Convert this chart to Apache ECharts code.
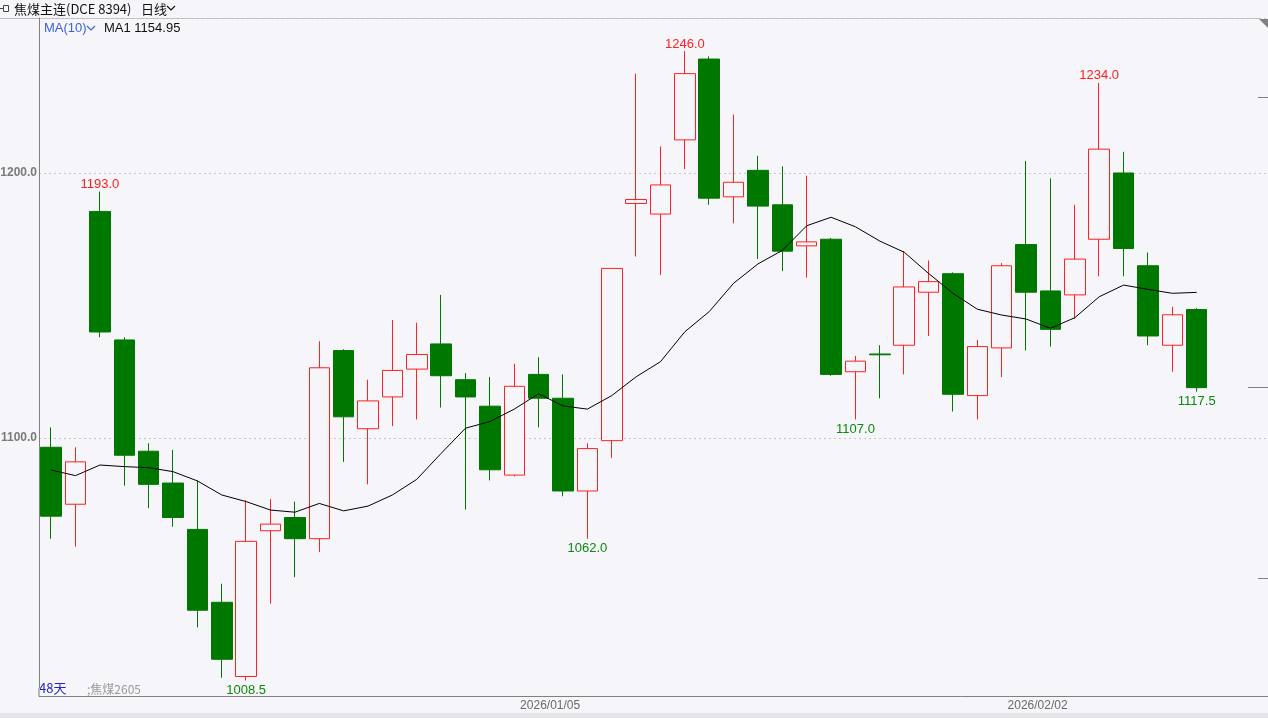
<!DOCTYPE html>
<html><head><meta charset="utf-8">
<script src="https://cdn.jsdelivr.net/npm/echarts@6/dist/echarts.min.js"></script>
<style>html,body{margin:0;padding:0;background:#f5f5fa;}#c{width:1268px;height:718px;}</style>
</head><body><div id="c"></div>
<script>
const dates = ['2025/12/04','2025/12/05','2025/12/08','2025/12/09','2025/12/10','2025/12/11','2025/12/12','2025/12/15','2025/12/16','2025/12/17',
'2025/12/18','2025/12/19','2025/12/22','2025/12/23','2025/12/24','2025/12/25','2025/12/26','2025/12/29','2025/12/30','2025/12/31',
'2026/01/05','2026/01/06','2026/01/07','2026/01/08','2026/01/09','2026/01/12','2026/01/13','2026/01/14','2026/01/15','2026/01/16',
'2026/01/19','2026/01/20','2026/01/21','2026/01/22','2026/01/23','2026/01/26','2026/01/27','2026/01/28','2026/01/29','2026/01/30',
'2026/02/02','2026/02/03','2026/02/04','2026/02/05','2026/02/06','2026/02/09','2026/02/10','2026/02/11'];
const emptySlots = ['', '', ''];
const opens = [1096.5,1075,1185.5,1137,1095,1083,1065.5,1038,1010,1065,
1070,1062,1133,1103.5,1115.5,1126,1135.5,1122,1112,1086,
1124,1115,1080,1099,1188.5,1184.5,1212.5,1243,1191,1201,
1188,1172.5,1175,1125,1131.7,1135,1155,1162,1116,1134,
1173,1155.5,1154,1175,1200,1165,1135,1148.5];
const closes = [1070.5,1091,1140,1093.5,1082.5,1070,1035,1016.5,1061,1067.5,
1062,1126.5,1108,1114,1125.5,1131.5,1123.5,1115.5,1088,1119.5,
1115,1080,1096,1164,1190,1195.5,1237.5,1190.5,1196.5,1187.5,
1170.5,1174,1124,1129,1131.4,1157,1159,1116.5,1134.5,1165,
1155,1141,1167.5,1209,1171.5,1138.5,1146.5,1119];
const lows = [1062,1059,1138,1082,1073.5,1066.5,1028.5,1009.5,1008.5,1037.5,
1047.5,1057,1091,1082.5,1104.5,1107,1111.5,1073,1084,1085.5,
1104,1078,1062,1092.5,1168.5,1161.5,1201.5,1188,1181,1167.5,
1163,1160.5,1123.5,1107,1115,1124,1138.5,1110,1107,1123,
1133,1134.5,1145,1161,1161,1135,1125,1117.5];
const highs = [1104,1096.5,1193,1138,1098,1095.5,1084,1045,1076.5,1077,
1076,1136.5,1133.5,1122,1144.5,1143.5,1154,1124.5,1123,1128,
1130.5,1124,1098,1164,1237.5,1210,1246,1244,1222,1206.5,
1202.5,1199,1175.5,1131,1135,1170.5,1167,1162.5,1137,1166,
1204.5,1198,1188,1234,1208,1170,1149.5,1149];
const ma10 = [1087.9,1085.8,1089.8,1089.2,1088.8,1087.3,1083.8,1078.5,1076,1072.8,
1072,1075.3,1072.5,1074.3,1078.5,1084.4,1094.2,1103.7,1106.2,1110.9,
1116.7,1112.1,1110.9,1116,1123.1,1128.8,1140.1,1147.7,1158.4,1165.7,
1170.8,1180.1,1183.3,1179.7,1174.3,1170.1,1162.1,1154.6,1148.6,1146.4,
1144.9,1141.4,1145.4,1153.3,1157.7,1156.1,1154.6,1154.95];
const highMarks = [2, 26, 43];
const lowMarks = [8, 22, 33, 47];
const dateLabelIdx = [20, 40];
const tickIdx = [47];

const cats = dates.concat(emptySlots);
const kData = opens.map((o, i) => [o, closes[i], lows[i], highs[i]]);
const BG = '#f5f5fa';
const RED = '#ff2020';
const GREEN = '#007800';

const markData = highMarks.map(i => ({
  coord: [i, highs[i]], value: highs[i],
  label: {position: 'top', distance: 0, color: '#ff2020'}
})).concat(lowMarks.map(i => ({
  coord: [i, lows[i]], value: lows[i],
  label: {position: 'bottom', distance: 3, color: '#0a8a0a'}
})));

const chart = echarts.init(document.getElementById('c'), null, {renderer: 'canvas'});
chart.setOption({
  animation: false,
  backgroundColor: BG,
  grid: {left: 39, top: 18, width: 1243, height: 678, containLabel: false, outerBoundsMode: 'none'},
  xAxis: {
    type: 'category', data: cats, boundaryGap: true,
    axisLine: {show: true, lineStyle: {color: '#808080', width: 1}},
    axisTick: {show: true, inside: true, length: 8, interval: (i) => tickIdx.includes(i),
      lineStyle: {color: '#b8b8b8', width: 2}},
    axisLabel: {
      interval: (i) => dateLabelIdx.includes(i), margin: 4,
      formatter: (v) => '{a|' + v + '}',
      rich: {a: {padding: [0, 0, 0, 23], fontSize: 12, fontFamily: 'Liberation Sans', color: '#6a6a6a'}}
    },
    splitLine: {show: false}
  },
  yAxis: {
    type: 'value', min: 1002.64, max: 1258.49, splitNumber: 3, scale: true,
    axisLine: {show: true, lineStyle: {color: '#808080', width: 1}},
    axisTick: {show: false},
    axisLabel: {showMinLabel: false, showMaxLabel: false, margin: 2,
      formatter: (v) => v.toFixed(1), color: '#7a7a7a', fontWeight: 'bold', fontSize: 12,
      fontFamily: 'Liberation Sans'},
    splitLine: {show: true, lineStyle: {color: '#c8c8c8', type: [2, 3], width: 1}}
  },
  series: [{
    type: 'candlestick', data: kData, barWidth: 21,
    itemStyle: {color: BG, color0: GREEN, borderColor: RED, borderColor0: GREEN, borderWidth: 1},
    markPoint: {
      symbol: 'circle', symbolSize: 1, itemStyle: {color: 'rgba(0,0,0,0)'},
      label: {show: true, fontSize: 13, fontFamily: 'Liberation Sans', formatter: (p) => Number(p.value).toFixed(1)},
      data: markData
    }
  }, {
    type: 'line', data: ma10, showSymbol: false, symbol: 'none', smooth: false,
    lineStyle: {color: '#000000', width: 1}, z: 3
  }],
  graphic: [
    {type: 'rect', shape: {x: 0, y: 713, width: 1268, height: 5}, style: {fill: '#e6e6ea'}},
    {type: 'line', shape: {x1: 0, y1: 18.5, x2: 1259, y2: 18.5}, style: {stroke: '#bdbdbd', lineWidth: 1}},
    {type: 'polygon', shape: {points: [[1259, 19], [1268, 19], [1268, 28]]}, style: {fill: '#808080'}},
    {type: 'line', shape: {x1: 1258, y1: 97.5, x2: 1268, y2: 97.5}, style: {stroke: '#808080', lineWidth: 1}},
    {type: 'line', shape: {x1: 1248, y1: 387.5, x2: 1268, y2: 387.5}, style: {stroke: '#808080', lineWidth: 1}},
    {type: 'line', shape: {x1: 1258, y1: 578.5, x2: 1268, y2: 578.5}, style: {stroke: '#808080', lineWidth: 1}},
    {type: 'rect', shape: {x: 3.5, y: 5.5, width: 5, height: 6}, style: {fill: 'none', stroke: '#444', lineWidth: 1}},
    {type: 'line', shape: {x1: 0, y1: 8.5, x2: 3, y2: 8.5}, style: {stroke: '#444', lineWidth: 1}},
    {type: 'text', x: 14, y: 9, style: {text: '焦煤主连(DCE 8394)', fill: '#111', font: '13px "Noto Sans CJK SC"', textVerticalAlign: 'middle'}},
    {type: 'text', x: 141, y: 9, style: {text: '日线', fill: '#111', font: '13px "Noto Sans CJK SC"', textVerticalAlign: 'middle'}},
    {type: 'polyline', shape: {points: [[167, 6], [171, 10], [175, 6]]}, style: {stroke: '#111', lineWidth: 1.2, fill: 'none'}},
    {type: 'text', x: 44, y: 28, style: {text: 'MA(10)', fill: '#3b63d8', font: '13px "Liberation Sans"', textVerticalAlign: 'middle'}},
    {type: 'polyline', shape: {points: [[87, 26], [91, 30], [95, 26]]}, style: {stroke: '#3b63d8', lineWidth: 1.2, fill: 'none'}},
    {type: 'text', x: 104, y: 28, style: {text: 'MA1 ' + ma10[ma10.length - 1].toFixed(2), fill: '#111', font: '13px "Liberation Sans"', textVerticalAlign: 'middle'}},
    {type: 'text', x: 39, y: 688, style: {text: '48天', fill: '#2424c8', font: '13px "Noto Sans CJK SC"', textVerticalAlign: 'middle'}},
    {type: 'text', x: 87, y: 689, style: {text: ';焦煤2605', fill: '#9a9a9a', font: '12px "Noto Sans CJK SC"', textVerticalAlign: 'middle'}}
  ]
});
</script></body></html>
